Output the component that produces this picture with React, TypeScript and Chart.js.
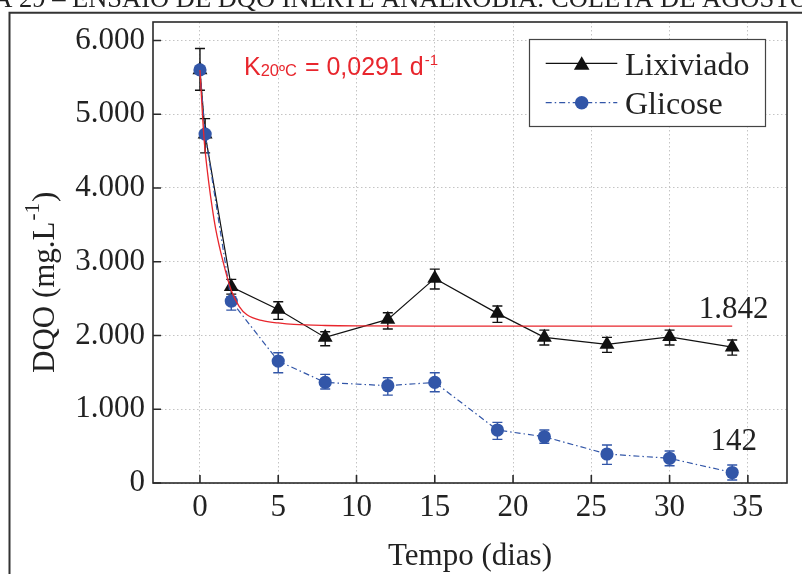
import React, { useEffect, useRef } from 'react';
import { Chart, registerables } from 'chart.js';

Chart.register(...registerables);

// ---------------- data ----------------
const days = [0, 0.33, 2, 5, 8, 12, 15, 19, 22, 26, 30, 34];
const lixiviado = [5600, 4730, 2660, 2353, 1974, 2218, 2774, 2300, 1974, 1880, 1982, 1842];
const lixiviadoLow = [5325, 4475, 2560, 2218, 1860, 2087, 2630, 2178, 1870, 1771, 1870, 1734];
const lixiviadoHigh = [5890, 4940, 2760, 2457, 2050, 2308, 2900, 2400, 2073, 1974, 2073, 1938];
const glicose = [5600, 4730, 2466, 1653, 1364, 1319, 1364, 718, 627, 393, 335, 142];
const glicoseLow = [5560, 4690, 2344, 1495, 1274, 1192, 1237, 592, 538, 253, 234, 40];
const glicoseHigh = [5640, 4770, 2525, 1766, 1473, 1427, 1495, 822, 718, 515, 434, 244];
const fitDays = [0, 0.25, 0.5, 0.75, 1, 1.5, 2, 2.5, 3, 4, 5, 6, 8, 10, 15, 20, 25, 30, 34];
const fitValues = [5600, 4700, 4180, 3780, 3450, 2980, 2610, 2395, 2280, 2200, 2170, 2150, 2135, 2130, 2128, 2128, 2128, 2128, 2128];
const xTickValues = [0, 5, 10, 15, 20, 25, 30, 35];
const yTickValues = [0, 1000, 2000, 3000, 4000, 5000, 6000];
const seriesNames = ['Lixiviado', 'Glicose'];
const titlePrefix = 'FIGURA 29 – ';
const titleText = 'ENSAIO DE DQO INERTE ANAERÓBIA: COLETA DE AGOSTO';
const rateLabel = { main: 'K', sub: '20ºC', rest: ' = 0,0291 d', sup: '-1' };
const endLabels = ['1.842', '142'];

const BLUE = '#3256a8';
const RED = '#e8262d';
const AXIS = '#2a2a2a';
const SERIF = '"Liberation Serif", "Times New Roman", serif';
const SANS = '"Liberation Sans", Arial, sans-serif';

const fmt = (v: number) => String(v).replace(/\B(?=(\d{3})+(?!\d))/g, '.');

function triangle(ctx: CanvasRenderingContext2D, x: number, y: number, r: number) {
  ctx.beginPath();
  ctx.moveTo(x, y - r);
  ctx.lineTo(x + 0.866 * r, y + r / 2);
  ctx.lineTo(x - 0.866 * r, y + r / 2);
  ctx.closePath();
  ctx.fill();
}

const decorPlugin = {
  id: 'decor',
  beforeDraw(chart: any) {
    const ctx = chart.ctx as CanvasRenderingContext2D;
    ctx.save();
    ctx.fillStyle = '#fff';
    ctx.fillRect(0, 0, chart.width, chart.height);
    // clipped caption
    ctx.fillStyle = '#222';
    ctx.font = `26.5px ${SERIF}`;
    ctx.textBaseline = 'alphabetic';
    const pre = ctx.measureText(titlePrefix).width;
    ctx.fillText(titlePrefix + titleText, 72 - pre, 7);
    // outer frame
    ctx.strokeStyle = '#333';
    ctx.lineWidth = 2;
    ctx.beginPath();
    ctx.moveTo(9.5, chart.height + 5);
    ctx.lineTo(9.5, 12.7);
    ctx.lineTo(chart.width + 5, 12.7);
    ctx.stroke();
    ctx.restore();
  },
  beforeDatasetsDraw(chart: any) {
    const ctx = chart.ctx as CanvasRenderingContext2D;
    const xs = chart.scales.x;
    const ys = chart.scales.y;
    const drawBars = (low: number[], high: number[], color: string) => {
      ctx.strokeStyle = color;
      ctx.lineWidth = 1.4;
      ctx.setLineDash([]);
      for (let i = 0; i < days.length; i++) {
        const x = xs.getPixelForValue(days[i]);
        const y1 = ys.getPixelForValue(low[i]);
        const y2 = ys.getPixelForValue(high[i]);
        ctx.beginPath();
        ctx.moveTo(x, y1);
        ctx.lineTo(x, y2);
        ctx.moveTo(x - 5, y1);
        ctx.lineTo(x + 5, y1);
        ctx.moveTo(x - 5, y2);
        ctx.lineTo(x + 5, y2);
        ctx.stroke();
      }
    };
    ctx.save();
    drawBars(lixiviadoLow, lixiviadoHigh, '#111');
    drawBars(glicoseLow, glicoseHigh, BLUE);
    ctx.restore();
  },
  afterDraw(chart: any) {
    const ctx = chart.ctx as CanvasRenderingContext2D;
    const a = chart.chartArea;
    const xs = chart.scales.x;
    const ys = chart.scales.y;
    ctx.save();
    // plot frame
    ctx.strokeStyle = AXIS;
    ctx.lineWidth = 1.6;
    ctx.setLineDash([]);
    ctx.strokeRect(a.left, a.top, a.right - a.left, a.bottom - a.top);
    // inward ticks
    ctx.beginPath();
    xTickValues.forEach((v) => {
      const x = xs.getPixelForValue(v);
      ctx.moveTo(x, a.bottom);
      ctx.lineTo(x, a.bottom - 8);
    });
    yTickValues.forEach((v) => {
      const y = ys.getPixelForValue(v);
      ctx.moveTo(a.left, y);
      ctx.lineTo(a.left + 8, y);
    });
    ctx.stroke();

    // rate label
    ctx.fillStyle = RED;
    ctx.textBaseline = 'alphabetic';
    let x = 244;
    const by = 74.5;
    ctx.font = `25px ${SANS}`;
    ctx.fillText(rateLabel.main, x, by);
    x += ctx.measureText(rateLabel.main).width;
    ctx.font = `16.5px ${SANS}`;
    ctx.fillText(rateLabel.sub, x, by + 1);
    x += ctx.measureText(rateLabel.sub).width + 1;
    ctx.font = `25px ${SANS}`;
    ctx.fillText(rateLabel.rest, x, by);
    x += ctx.measureText(rateLabel.rest).width + 1;
    ctx.font = `15px ${SANS}`;
    ctx.fillText(rateLabel.sup, x, by - 10);

    // end labels
    ctx.fillStyle = '#222';
    ctx.font = `31px ${SERIF}`;
    ctx.textAlign = 'center';
    const lx = xs.getPixelForValue(days[days.length - 1]) + 1.5;
    ctx.fillText(endLabels[0], lx, ys.getPixelForValue(lixiviado[lixiviado.length - 1]) - 29);
    ctx.fillText(endLabels[1], lx, ys.getPixelForValue(glicose[glicose.length - 1]) - 23);

    // x title
    ctx.fillText('Tempo (dias)', (a.left + a.right) / 2, 565);
    // y title
    ctx.save();
    ctx.translate(53.5, 373);
    ctx.rotate(-Math.PI / 2);
    ctx.textAlign = 'left';
    ctx.font = `31px ${SERIF}`;
    const t1 = 'DQO (mg.L';
    ctx.fillText(t1, 0, 0);
    let tx = ctx.measureText(t1).width;
    ctx.font = `21px ${SERIF}`;
    ctx.fillText('-1', tx + 1, -15);
    tx += ctx.measureText('-1').width + 2;
    ctx.font = `31px ${SERIF}`;
    ctx.fillText(')', tx, 0);
    ctx.restore();

    // legend
    const L = 529.5, T = 39.5, W = 236, H = 87;
    ctx.fillStyle = '#fff';
    ctx.fillRect(L, T, W, H);
    ctx.strokeStyle = '#444';
    ctx.lineWidth = 1.2;
    ctx.strokeRect(L, T, W, H);
    const rows = [63.3, 102.7];
    // row 1
    ctx.strokeStyle = '#111';
    ctx.lineWidth = 1.2;
    ctx.beginPath();
    ctx.moveTo(545.7, rows[0]);
    ctx.lineTo(617.3, rows[0]);
    ctx.stroke();
    ctx.fillStyle = '#111';
    triangle(ctx, 581.7, rows[0] + 2, 9);
    // row 2
    ctx.strokeStyle = BLUE;
    ctx.setLineDash([6, 3, 1.5, 3]);
    ctx.beginPath();
    ctx.moveTo(545.7, rows[1]);
    ctx.lineTo(617.3, rows[1]);
    ctx.stroke();
    ctx.setLineDash([]);
    ctx.fillStyle = BLUE;
    ctx.beginPath();
    ctx.arc(581.7, rows[1], 6.8, 0, Math.PI * 2);
    ctx.fill();
    ctx.fillStyle = '#222';
    ctx.font = `32px ${SERIF}`;
    ctx.textAlign = 'left';
    ctx.fillText(seriesNames[0], 625, 75);
    ctx.fillText(seriesNames[1], 625, 113.5);
    ctx.restore();
  },
};

export default function App() {
  const ref = useRef<HTMLCanvasElement | null>(null);
  useEffect(() => {
    document.body.style.margin = '0';
    const canvas = ref.current;
    if (!canvas) return;
    const chart = new Chart(canvas, {
      type: 'line',
      data: {
        datasets: [
          {
            label: 'Ajuste',
            data: fitDays.map((d, i) => ({ x: d, y: fitValues[i] })),
            borderColor: RED,
            borderWidth: 1.3,
            pointRadius: 0,
            cubicInterpolationMode: 'monotone',
            fill: false,
            order: 0,
          },
          {
            label: seriesNames[1],
            data: days.map((d, i) => ({ x: d, y: glicose[i] })),
            borderColor: BLUE,
            borderWidth: 1.2,
            borderDash: [6, 3, 1.5, 3],
            pointStyle: 'circle',
            pointRadius: 6.6,
            pointBackgroundColor: BLUE,
            pointBorderColor: BLUE,
            pointBorderWidth: 0,
            fill: false,
            order: 1,
          },
          {
            label: seriesNames[0],
            data: days.map((d, i) => ({ x: d, y: lixiviado[i] })),
            borderColor: '#111',
            borderWidth: 1.2,
            pointStyle: 'triangle',
            pointRadius: 8.6,
            pointBackgroundColor: '#111',
            pointBorderColor: '#111',
            pointBorderWidth: 0,
            fill: false,
            order: 2,
          },
        ] as any,
      },
      options: {
        animation: false,
        responsive: false,
        events: [],
        layout: { padding: { left: 0, top: 22, right: 15, bottom: 0 } },
        plugins: { legend: { display: false }, tooltip: { enabled: false } },
        scales: {
          x: {
            type: 'linear',
            min: -3,
            max: 37.5,
            afterBuildTicks: (s: any) => {
              s.ticks = xTickValues.map((v) => ({ value: v }));
            },
            afterFit: (s: any) => {
              s.height = 91;
              s.paddingLeft = 0;
              s.paddingRight = 0;
            },
            grid: { color: '#c4c4c4', lineWidth: 1, drawTicks: false },
            border: { display: false, dash: [1.5, 2.5] },
            ticks: {
              padding: 9,
              color: '#222',
              font: { family: SERIF, size: 31, lineHeight: 1 },
              callback: (v: any) => String(v),
            },
          },
          y: {
            type: 'linear',
            min: 0,
            max: 6250,
            afterBuildTicks: (s: any) => {
              s.ticks = yTickValues.map((v) => ({ value: v }));
            },
            afterFit: (s: any) => {
              s.width = 153;
              s.paddingTop = 0;
              s.paddingBottom = 0;
            },
            grid: { color: '#c4c4c4', lineWidth: 1, drawTicks: false },
            border: { display: false, dash: [1.5, 2.5] },
            ticks: {
              padding: 8,
              color: '#222',
              font: { family: SERIF, size: 31, lineHeight: 1 },
              callback: (v: any) => fmt(Number(v)),
            },
          },
        },
      } as any,
      plugins: [decorPlugin],
    });
    return () => chart.destroy();
  }, []);
  return (
    <div style={{ position: 'relative', width: 802, height: 574 }}>
      <canvas ref={ref} width={802} height={574} style={{ display: 'block' }} />
    </div>
  );
}
